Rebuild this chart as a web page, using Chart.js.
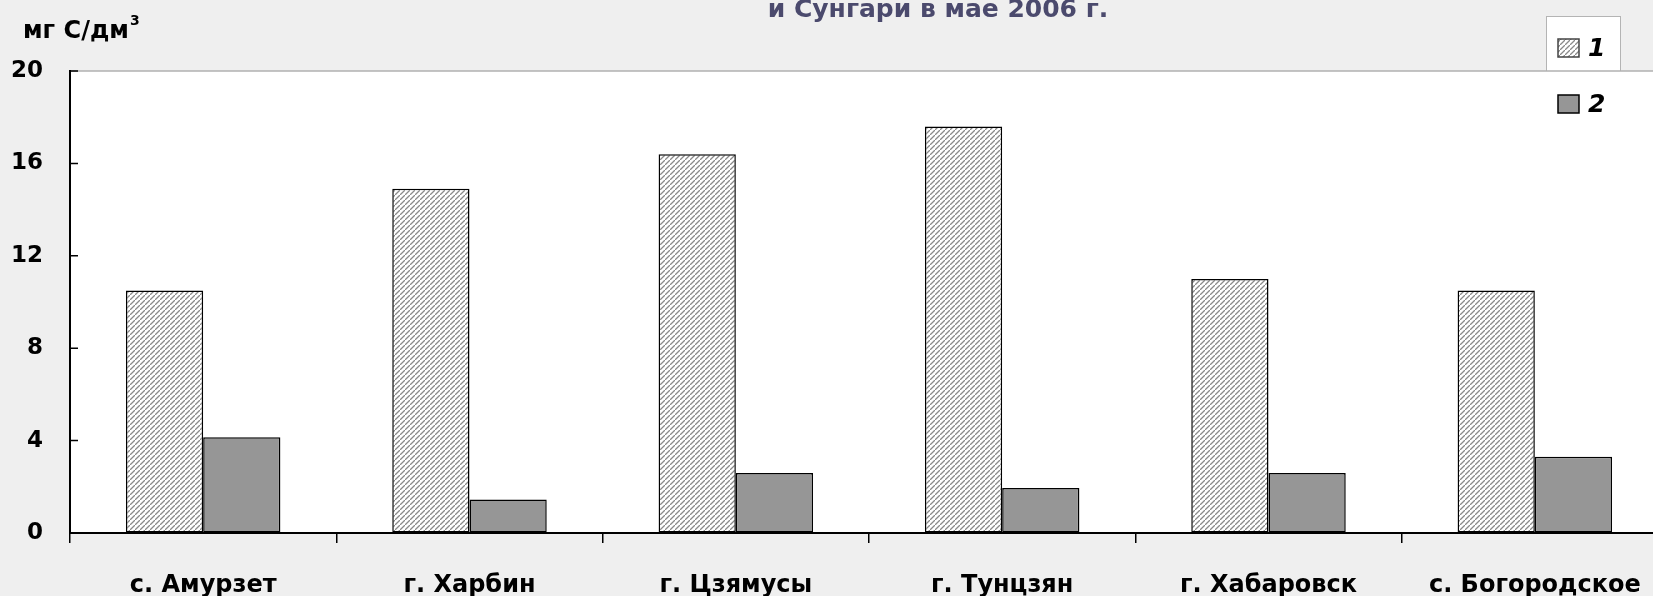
<!DOCTYPE html>
<html>
<head>
<meta charset="utf-8">
<script src="https://cdn.jsdelivr.net/npm/chart.js@4/dist/chart.umd.min.js"></script>
<style>
    html, body { margin: 0; padding: 0; overflow: hidden; background: #efefef; }
    #wrap { width: 1680px; height: 596px; }
</style>
</head>
<body>
<div id="wrap"><canvas id="c" width="1680" height="596"></canvas></div>
<script>
var stations = [ 'с. Амурзет', 'г. Харбин', 'г. Цзямусы', 'г. Тунцзян', 'г. Хабаровск', 'с. Богородское' ];
var series1 = [ 10.5, 14.9, 16.4, 17.6, 11.0, 10.5 ];
var series2 = [ 4.15, 1.45, 2.6, 1.95, 2.6, 3.3 ];
var seriesNames = [ '1', '2' ];
var yTicks = [ 0, 4, 8, 12, 16, 20 ];
var titleText = 'и Сунгари в мае 2006 г.';
var unitText = 'мг С/дм';

var FONT = '"DejaVu Sans", Verdana, sans-serif';

var makeHatch = function () {
    var n = 5;
    var p = document.createElement( 'canvas' );
    p.width = n;
    p.height = n;
    var g = p.getContext( '2d' );
    g.fillStyle = '#ffffff';
    g.fillRect( 0, 0, n, n );
    g.strokeStyle = '#8a8a8a';
    g.lineWidth = 1.3;
    g.beginPath();
    g.moveTo( -1, n + 1 );
    g.lineTo( n + 1, -1 );
    g.moveTo( -n - 1, 1 );
    g.lineTo( 1, -n - 1 );
    g.moveTo( n - 1, 2 * n + 1 );
    g.lineTo( 2 * n + 1, n - 1 );
    g.stroke();
    return g.createPattern( p, 'repeat' );
};

var ctx = document.getElementById( 'c' ).getContext( '2d' );
var hatch = makeHatch();

var decor = {
    id: 'decor',
    beforeDraw: function ( chart ) {
        var c = chart.ctx;
        var a = chart.chartArea;
        c.save();
        c.fillStyle = '#efefef';
        c.fillRect( 0, 0, chart.width, chart.height );
        // legend box above the plot
        c.fillStyle = '#ffffff';
        c.fillRect( 1546, 16, 74, a.top - 16 );
        c.strokeStyle = '#b4b4b4';
        c.lineWidth = 1;
        c.strokeRect( 1546.5, 16.5, 74, a.top - 16 );
        c.fillStyle = '#ffffff';
        c.fillRect( a.left, a.top, a.right - a.left, a.bottom - a.top );
        c.strokeStyle = '#b0b0b0';
        c.lineWidth = 1.5;
        c.beginPath();
        c.moveTo( a.left, a.top );
        c.lineTo( chart.width, a.top );
        c.stroke();
        c.restore();
    },
    afterDraw: function ( chart ) {
        var c = chart.ctx;
        var a = chart.chartArea;
        var ys = chart.scales.y;
        c.save();
        // inward ticks on y axis
        c.strokeStyle = '#000000';
        c.lineWidth = 1.5;
        c.beginPath();
        yTicks.forEach( function ( v ) {
            var py = ys.getPixelForValue( v );
            c.moveTo( a.left, py );
            c.lineTo( a.left + 8, py );
        } );
        c.stroke();

        // title, cut at the top like the source
        c.fillStyle = '#4b4a6d';
        c.font = 'bold 25px ' + FONT;
        c.textAlign = 'center';
        c.textBaseline = 'alphabetic';
        c.fillText( titleText, 938, 17 );

        // unit label
        c.fillStyle = '#000000';
        c.font = 'bold 24px ' + FONT;
        c.textAlign = 'left';
        c.fillText( unitText, 23, 38 );
        var w = c.measureText( unitText ).width;
        c.font = 'bold 14px ' + FONT;
        c.fillText( '3', 23 + w + 1, 25 );

        // legend
        var ds = chart.data.datasets;
        var rows = [ 48, 104 ];
        ds.forEach( function ( d, i ) {
            var y = rows[ i ];
            c.fillStyle = d.backgroundColor;
            c.fillRect( 1558, y - 9, 21, 18 );
            c.strokeStyle = i === 0 ? '#444444' : '#000000';
            c.lineWidth = 1.5;
            c.strokeRect( 1558, y - 9, 21, 18 );
            c.fillStyle = '#000000';
            c.font = 'italic bold 25px ' + FONT;
            c.textAlign = 'left';
            c.textBaseline = 'middle';
            c.fillText( d.label, 1588, y + 1 );
        } );
        c.restore();
    }
};

new Chart( ctx, {
    type: 'bar',
    data: {
        labels: stations,
        datasets: [ {
            label: seriesNames[ 0 ],
            data: series1,
            backgroundColor: hatch,
            borderColor: '#000000',
            borderWidth: 1.5,
            borderSkipped: false
        }, {
            label: seriesNames[ 1 ],
            data: series2,
            backgroundColor: '#969696',
            borderColor: '#000000',
            borderWidth: 1.5,
            borderSkipped: false
        } ]
    },
    options: {
        responsive: false,
        animation: false,
        events: [],
        layout: { padding: { top: 71, right: 12, bottom: 0, left: 0 } },
        categoryPercentage: 0.58,
        barPercentage: 1.0,
        plugins: {
            legend: { display: false },
            title: { display: false },
            tooltip: { enabled: false }
        },
        scales: {
            x: {
                offset: true,
                grid: {
                    offset: true,
                    drawOnChartArea: false,
                    drawTicks: true,
                    tickLength: 10,
                    color: '#000000',
                    lineWidth: 1.5
                },
                border: { display: true, color: '#000000', width: 2 },
                ticks: {
                    color: '#000000',
                    padding: 28,
                    maxRotation: 0,
                    autoSkip: false,
                    font: { family: FONT, size: 24, weight: 'bold' }
                },
                afterFit: function ( scale ) {
                    scale.height = 63;
                }
            },
            y: {
                min: 0,
                max: 20,
                afterBuildTicks: function ( scale ) {
                    scale.ticks = yTicks.map( function ( v ) {
                        return { value: v };
                    } );
                },
                grid: { display: true, drawOnChartArea: false, drawTicks: false },
                border: { display: true, color: '#000000', width: 2 },
                ticks: {
                    color: '#000000',
                    padding: 27,
                    font: { family: FONT, size: 23, weight: 'bold' }
                },
                afterFit: function ( scale ) {
                    scale.width = 70;
                }
            }
        }
    },
    plugins: [ decor ]
} );
</script>
</body>
</html>
